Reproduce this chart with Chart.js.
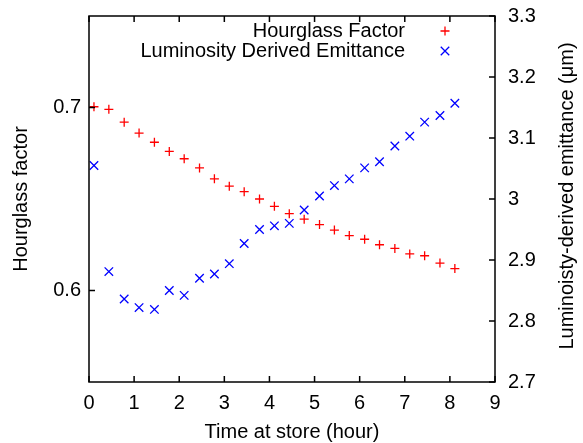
<!DOCTYPE html>
<html>
<head>
<meta charset="utf-8">
<script src="https://cdn.jsdelivr.net/npm/chart.js@4.4.1/dist/chart.umd.min.js"></script>
<style>
  html, body { margin: 0; padding: 0; background: #fff; }
</style>
</head>
<body>
<canvas id="storeChart" width="583" height="443"></canvas>
<script>
// time at store (hours) for each measurement
const hours = [0.11, 0.44, 0.78, 1.11, 1.45, 1.78, 2.11, 2.45, 2.78, 3.11, 3.44, 3.78, 4.11,
               4.44, 4.77, 5.11, 5.44, 5.77, 6.11, 6.44, 6.78, 7.11, 7.44, 7.78, 8.11];
const hourglass = [0.7004, 0.699, 0.692, 0.686, 0.681, 0.676, 0.672, 0.667, 0.661, 0.657, 0.654, 0.650, 0.646,
                   0.642, 0.639, 0.636, 0.633, 0.630, 0.628, 0.625, 0.623, 0.620, 0.619, 0.615, 0.612];
const emittance = [3.055, 2.881, 2.836, 2.822, 2.819, 2.850, 2.842, 2.870, 2.877, 2.894, 2.927, 2.950, 2.956,
                   2.960, 2.982, 3.005, 3.022, 3.033, 3.051, 3.061, 3.087, 3.103, 3.126, 3.137, 3.157];
const hourglassTicks = [0.6, 0.7];
const seriesNames = ['Hourglass Factor', 'Luminosity Derived Emittance'];
const axisTitles = {
  x: 'Time at store (hour)',
  y: 'Hourglass factor',
  y2: 'Luminoisty-derived emittance (\u03bcm)'
};

const FONT = "'Liberation Sans', Arial, sans-serif";
const tickFont = { family: FONT, size: 20 };

// no extra room for overhanging tick labels, the frame sits at fixed edges
const noPad = s => { s.paddingTop = 0; s.paddingBottom = 0; s.paddingLeft = 0; s.paddingRight = 0; };

// gnuplot style frame: border, inward ticks, titles and key
const framePlugin = {
  id: 'frame',
  afterDraw(chart) {
    const { ctx, chartArea: a, scales } = chart;
    const tl = 6;
    ctx.save();
    ctx.strokeStyle = '#000';
    ctx.lineWidth = 1.5;
    ctx.strokeRect(a.left, a.top, a.right - a.left, a.bottom - a.top);

    ctx.beginPath();
    scales.x.ticks.forEach(t => {
      const px = scales.x.getPixelForValue(t.value);
      ctx.moveTo(px, a.bottom); ctx.lineTo(px, a.bottom - tl);
      ctx.moveTo(px, a.top); ctx.lineTo(px, a.top + tl);
    });
    scales.y.ticks.forEach(t => {
      const py = scales.y.getPixelForValue(t.value);
      ctx.moveTo(a.left, py); ctx.lineTo(a.left + tl, py);
    });
    scales.y2.ticks.forEach(t => {
      const py = scales.y2.getPixelForValue(t.value);
      ctx.moveTo(a.right, py); ctx.lineTo(a.right - tl, py);
    });
    ctx.stroke();

    // axis titles
    ctx.fillStyle = '#000';
    ctx.font = '20px ' + FONT;
    ctx.textAlign = 'center';
    ctx.textBaseline = 'middle';
    const midY = (a.top + a.bottom) / 2;
    ctx.fillText(axisTitles.x, (a.left + a.right) / 2, 432);
    ctx.save();
    ctx.translate(21, midY);
    ctx.rotate(-Math.PI / 2);
    ctx.fillText(axisTitles.y, 0, 0);
    ctx.restore();
    ctx.save();
    ctx.translate(567, midY - 3);
    ctx.rotate(-Math.PI / 2);
    ctx.fillText(axisTitles.y2, 0, 0);
    ctx.restore();

    // key, text right aligned with the symbol after it
    ctx.textAlign = 'right';
    chart.data.datasets.forEach((ds, i) => {
      const y = a.top + 15 + i * 20;
      ctx.fillStyle = '#000';
      ctx.fillText(ds.label, a.right - 90, y);
      ctx.strokeStyle = ds.borderColor;
      ctx.lineWidth = ds.borderWidth;
      Chart.helpers.drawPoint(ctx, { pointStyle: ds.pointStyle, radius: ds.pointRadius, borderWidth: ds.borderWidth },
        a.right - 50, y);
    });
    ctx.restore();
  }
};

new Chart(document.getElementById('storeChart').getContext('2d'), {
  type: 'scatter',
  data: {
    datasets: [{
      label: seriesNames[0],
      data: hours.map((h, i) => ({ x: h, y: hourglass[i] })),
      yAxisID: 'y',
      pointStyle: 'cross', pointRadius: 4.5, pointHoverRadius: 4.5,
      borderColor: '#ff0000', backgroundColor: '#ff0000', borderWidth: 1.3
    }, {
      label: seriesNames[1],
      data: hours.map((h, i) => ({ x: h, y: emittance[i] })),
      yAxisID: 'y2',
      pointStyle: 'crossRot', pointRadius: 6, pointHoverRadius: 6,
      borderColor: '#0000ff', backgroundColor: '#0000ff', borderWidth: 1.3
    }]
  },
  options: {
    responsive: false,
    animation: false,
    devicePixelRatio: 1,
    layout: { padding: { top: 16, left: 0, right: 0, bottom: 0 } },
    plugins: { legend: { display: false }, tooltip: { enabled: false } },
    scales: {
      x: {
        type: 'linear', min: 0, max: 9,
        grid: { display: false, drawTicks: false }, border: { display: false },
        ticks: { stepSize: 1, color: '#000', font: tickFont, padding: 9, maxRotation: 0 },
        afterFit: s => { noPad(s); s.height = 61; }
      },
      y: {
        position: 'left', min: 0.55, max: 0.75,
        grid: { display: false, drawTicks: false }, border: { display: false },
        afterBuildTicks: s => { s.ticks = hourglassTicks.map(v => ({ value: v })); },
        ticks: { color: '#000', font: tickFont, padding: 8, callback: v => v.toFixed(1) },
        afterFit: s => { noPad(s); s.width = 89; }
      },
      y2: {
        position: 'right', min: 2.7, max: 3.3,
        grid: { display: false, drawTicks: false }, border: { display: false },
        ticks: { stepSize: 0.1, color: '#000', font: tickFont, padding: 13, callback: v => String(+v.toFixed(1)) },
        afterFit: s => { noPad(s); s.width = 88; }
      }
    }
  },
  plugins: [framePlugin]
});
</script>
</body>
</html>
